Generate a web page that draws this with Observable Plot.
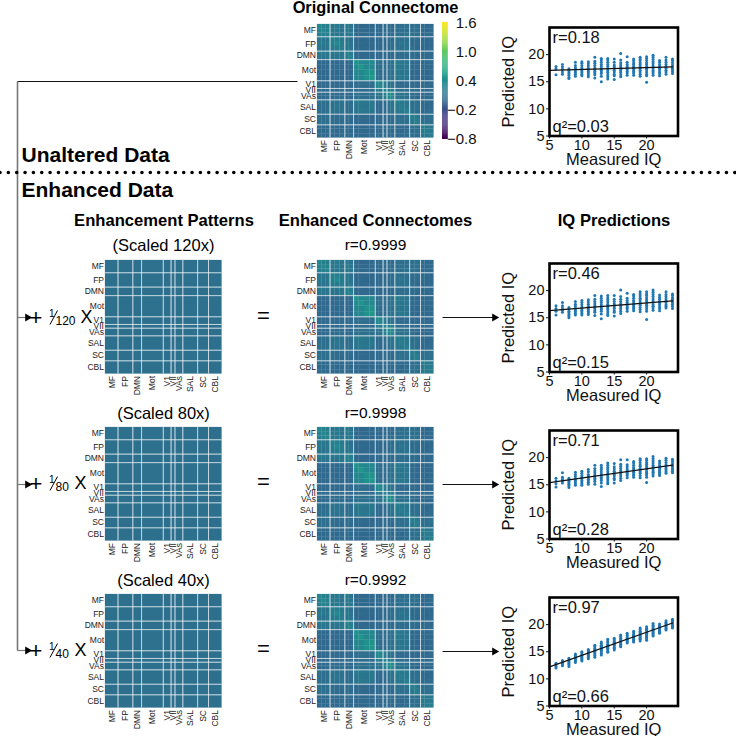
<!DOCTYPE html>
<html><head><meta charset="utf-8">
<script src="https://cdn.jsdelivr.net/npm/d3@7"></script>
<script src="https://cdn.jsdelivr.net/npm/@observablehq/plot@0.6"></script>
<style>
html,body{margin:0;padding:0;background:#fff}
#page{position:relative;width:736px;height:736px;overflow:hidden;font-family:"Liberation Sans",Arial,sans-serif}
#page svg{position:absolute;background:transparent;max-width:none}
</style></head><body><div id="page"></div>
<script>
// ---------- data ----------
const networks = ["MF","FP","DMN","Mot","V1","VII","VAs","SAL","SC","CBL"];
const networkSizes = [29,34,20,50,18,9,18,34,25,31];
// each network split in sub-blocks of nodes
const subBlocks = [[10,10,9],[11,12,11],[10,10],[12,13,13,12],[9,9],[9],[9,9],[11,12,11],[12,13],[10,11,10]];
// upper triangle of the connectome, sub-block by sub-block
const connectomeUpper = [
[.31,.25,.22,.14,.18,.12,.17,.12,.03,-.01,.01,.01,.02,.01,.02,.04,.01,.09,.06,.09,.07,.09,.04,.01,.02],
[.30,.25,.15,.17,.10,.18,.14,.01,.02,0,.02,.02,.01,.01,.04,.01,.06,.09,.06,.06,.09,.02,.01,.04],
[.26,.12,.15,.14,.14,.17,.02,.01,.02,0,.01,.02,.04,.01,.04,.07,.06,.10,.09,.06,.01,.04,.02],
[.25,.22,.17,.14,.10,.02,0,.03,.01,.01,.02,.02,.06,.02,.12,.07,.10,.04,.06,.02,.04,.01],
[.33,.2,.17,.12,.01,.03,.01,.02,.02,.02,.01,.04,.06,.09,.14,.10,.02,.04,.04,.01,.02],
[.22,.12,.15,.03,.01,.02,.01,.01,.02,.04,.02,.06,.12,.09,.12,.06,.02,.01,.02,.04],
[.26,.22,.01,.02,0,.02,.02,.01,.01,.02,.01,.06,.04,.07,.04,.06,.02,.04,.01],
[.28,.02,0,.02,.01,.02,.02,.02,.01,.02,.04,.07,.04,.06,.02,.04,.01,.02],
[.44,.33,.31,.30,.06,.07,.02,.09,.10,.2,.15,.14,.01,.02,.01,.02,.02],
[.46,.31,.30,.04,.07,.06,.07,.09,.17,.14,.15,.02,.02,.02,.02,.01],
[.41,.42,.07,.04,.04,.10,.07,.15,.12,.14,.02,.01,.02,.01,.02],
[.47,.06,.04,.02,.09,.09,.14,.17,.12,.01,.02,.01,.01,.02],
[.36,.30,.2,.12,.09,.02,.01,.04,.01,.02,.02,.01,.04],
[.33,.18,.09,.12,.04,.02,.01,.01,.02,.04,.02,.01],
[.30,.2,.22,.04,.06,.02,.02,.04,.04,.02,.06],
[.39,.33,.12,.09,.10,.02,.04,.02,.04,.01],
[.36,.09,.12,.10,.04,.01,.04,.01,.02],
[.23,.17,.15,.07,.09,.02,.04,.01],
[.2,.17,.06,.09,.04,.01,.02],
[.22,.09,.06,.01,.04,.04],
[.23,.17,.07,.06,.09],
[.22,.06,.09,.07],
[.23,.17,.15],
[.2,.18],
[.23]];
// enhancement pattern, network by network
const patternUpper = [
[.09,.08,.07,.09,.07,.08,.08,.08,.08,.07],
[.08,.08,.08,.07,.09,.08,.08,.07,.08],
[.08,.07,.08,.09,.07,.08,.08,.07],
[.09,.08,.07,.08,.08,.09,.08],
[.07,.08,.08,.08,.07,.08],
[.08,.08,.07,.08,.08],
[.08,.08,.09,.07],
[.08,.08,.08],
[.09,.08],
[.08]];
const colorTicks = [-0.8,-0.2,0.4,1.0,1.6];
const measured = [6,7,8,9,10,11,12,13,14,15,16,17,18,19,20,21,22,23,24];
const predOriginal = [
[17.8,17.4,16.3],[18.2,17.7,17.3,16.8,16.4],[17.4,17.1,16.8,16.5,16.2,15.8,15.6],
[18.6,18,17.6,17.3,17,16.7,16.4,16],[18.7,18.4,18,17.6,17.3,17,16.7,16.4,16.1],
[18.7,18.3,17.9,17.5,17.2,16.9,16.6,16.3,15.9],[19.5,18.8,18.4,18,17.6,17.2,16.9,16.6,16.3,15.7],
[19.3,19,18.6,18.2,17.8,17.4,17.1,16.8,16.5,16,15],[19.3,19,18.6,18.2,17.8,17.4,17,16.7,16.3,15.9,15.5],
[19.2,18.6,18.1,17.8,17.5,17.1,16.8,16.4,16.1,15.4],[20.2,19,18.5,18.1,17.7,17.3,17,16.7,16.3,15.9],
[19.6,18.6,18.2,17.8,17.5,17.2,16.9,16.6,16.2],[19.2,18.9,18.5,18.2,17.8,17.5,17.2,16.9,16.6,16.2],
[19.5,19.2,18.9,18.5,18.2,17.8,17.5,17.1,16.8,16.4,16],[19.6,19.3,18.9,18.5,18.2,17.8,17.5,17.2,16.8,16.4,16.1,14.9],
[19.9,19.5,19.1,18.7,18.3,17.9,17.6,17.2,16.9,16.6,16.2],[18.9,18.6,18.2,17.8,17.5,17.2,16.8,16.5,16.1],
[19.5,19,18.6,18.2,17.8,17.5,17.1,16.8,16.4],[19.2,18.9,18.5,18.1,17.8,17.5,17.2,16.9,16.5]];
const pred120 = [
[17.2,16.7,16.2,15.5],[17.8,17.2,16.8,16.4,16],[16.9,16.6,16.2,15.9,15.6,15.3,15],
[18,17.5,17.1,16.7,16.4,16.1,15.8,15.5],[18.2,17.8,17.4,17,16.7,16.4,16.1,15.8,15.5],
[18.3,17.9,17.5,17.1,16.8,16.5,16.2,15.9,15.6],[19.1,18.4,18,17.6,17.2,16.9,16.6,16.3,16,15.4],
[19,18.6,18.2,17.8,17.4,17.1,16.8,16.5,16.2,15.7,14.8],[19.1,18.7,18.3,17.9,17.5,17.1,16.8,16.5,16.1,15.7,15.4],
[19.1,18.4,18,17.6,17.3,17,16.7,16.3,16,15.3],[20.1,18.9,18.4,18,17.6,17.3,17,16.6,16.2,15.8],
[19.5,18.6,18.2,17.8,17.5,17.2,16.9,16.6,16.2],[19.3,19,18.6,18.2,17.9,17.5,17.2,16.9,16.6,16.3],
[19.8,19.4,19,18.6,18.3,17.9,17.6,17.3,16.9,16.5,16.1],[19.8,19.4,19.1,18.7,18.3,18,17.6,17.3,17,16.6,16.2,14.7],
[20.1,19.7,19.3,18.9,18.5,18.1,17.8,17.4,17.1,16.8,16.4],[19.2,18.8,18.4,18,17.7,17.4,17,16.7,16.3],
[19.8,19.3,18.9,18.5,18.1,17.8,17.4,17.1,16.8],[19.4,19.1,18.7,18.4,18.1,17.8,17.5,17.1,16.7]];
const pred80 = [
[16.2,15.7,15.2,14.6],[17.2,16.4,16,15.7,15.3],[16.2,15.9,15.6,15.3,15.1,14.8,14.5],
[17.3,16.9,16.5,16.1,15.8,15.5,15.2,14.9],[17.5,17.1,16.7,16.4,16.1,15.8,15.5,15.2,14.9],
[17.8,17.4,16.9,16.6,16.3,16,15.7,15.4,15.1],[18.6,18,17.6,17.2,16.8,16.5,16.2,15.9,15.6,15.1],
[18.6,18.2,17.8,17.4,17,16.7,16.4,16.1,15.8,15.3,14.7],[19,18.6,18.2,17.8,17.4,17,16.6,16.3,15.9,15.5,15.2],
[18.9,18.3,17.9,17.5,17.2,16.9,16.6,16.2,15.9,15.3],[19.6,18.8,18.4,18,17.6,17.3,17,16.6,16.2,15.8],
[19.6,18.7,18.3,17.9,17.6,17.3,17,16.7,16.3],[19.3,19,18.6,18.2,17.9,17.6,17.3,17,16.7,16.4],
[19.8,19.5,19.1,18.7,18.4,18,17.7,17.4,17.1,16.7,16.3],[19.8,19.5,19.1,18.8,18.4,18.1,17.8,17.4,17.1,16.8,16.4,15.4],
[20.2,19.8,19.4,19,18.6,18.3,17.9,17.6,17.3,17,16.6],[19.4,19,18.6,18.2,17.9,17.6,17.3,17,16.7],
[19.9,19.5,19.1,18.7,18.3,18,17.7,17.4,17.1],[19.7,19.4,19,18.7,18.4,18.1,17.8,17.5,17.2]];
const pred40 = [
[12.9,12.6,12.3,12],[13.4,13.1,12.9,12.6,12.4],[13.8,13.5,13.3,13,12.8,12.6,12.3],
[14.6,14.3,14.1,13.9,13.7,13.5,13.3,13],[15,14.8,14.5,14.3,14.1,13.9,13.7,13.5,13.3],
[15.4,15.2,15,14.8,14.6,14.4,14.2,14,13.7],[16.2,15.9,15.6,15.4,15.2,15,14.8,14.6,14.3,14],
[16.8,16.5,16.2,16,15.8,15.6,15.4,15.2,15,14.7,14.4],[17.3,17,16.7,16.4,16.2,16,15.8,15.6,15.4,15.1,14.9],
[17.5,17.2,16.9,16.7,16.5,16.3,16.1,15.8,15.6,15.3],[18.1,17.8,17.5,17.2,17,16.8,16.6,16.3,16.1,15.9],
[18.4,18.1,17.9,17.6,17.4,17.2,17,16.8,16.6],[18.8,18.5,18.2,18,17.8,17.6,17.4,17.2,17,16.8],
[19.4,19.1,18.8,18.6,18.3,18.1,17.9,17.7,17.5,17.3,17],[19.6,19.3,19.1,18.9,18.6,18.4,18.2,18,17.8,17.6,17.4,17.1],
[20.2,19.9,19.6,19.3,19.1,18.9,18.7,18.5,18.3,18.1,17.9],[20.1,19.8,19.6,19.4,19.2,19,18.8,18.6,18.4],
[20.7,20.4,20.2,20,19.8,19.6,19.4,19.2,19],[21,20.8,20.6,20.4,20.2,20,19.8,19.6,19.4]];
const fitX = [5,24];
const fitOriginal = [17.1,17.75];
const fit120 = [16.3,18.1];
const fit80 = [15.4,18.6];
const fit40 = [12.2,20.3];
const yTicks = [5,10,15,20];
const xTicks = [5,10,15,20];

// ---------- layout ----------
const page = document.getElementById("page");
const FONT = '"Liberation Sans",Arial,sans-serif';
function place(svg,left,top){svg.style.left=left+"px";svg.style.top=top+"px";page.appendChild(svg);}
const cum = a=>{let s=0;return a.map(v=>(s+=v));};
const edges = cum(networkSizes).slice(0,-1);
let acc=0; const mids = networkSizes.map(s=>{const m=acc+s/2;acc+=s;return m;});
const flatSub = subBlocks.flat();
const subStart = [0,...cum(flatSub)];
const netStart = [0,...cum(networkSizes)];

const connectomeCells=[];
connectomeUpper.forEach((row,i)=>row.forEach((v,k)=>{
  const j=i+k;
  connectomeCells.push({a1:subStart[j],a2:subStart[j+1],b1:subStart[i],b2:subStart[i+1],v});
  if(j!==i) connectomeCells.push({a1:subStart[i],a2:subStart[i+1],b1:subStart[j],b2:subStart[j+1],v});
}));
const patternCells=[];
patternUpper.forEach((row,i)=>row.forEach((v,k)=>{
  const j=i+k;
  patternCells.push({a1:netStart[j],a2:netStart[j+1],b1:netStart[i],b2:netStart[i+1],v});
  if(j!==i) patternCells.push({a1:netStart[i],a2:netStart[i+1],b1:netStart[j],b2:netStart[j+1],v});
}));

function heatmap(cells,left,top){
  const W=116.5,H=113.5,ml=34,mt=2,mb=30,mr=2;
  const svg=Plot.plot({
    width:W+ml+mr,height:H+mt+mb,marginLeft:ml,marginTop:mt,marginBottom:mb,marginRight:mr,
    style:{fontFamily:FONT,background:"transparent",color:"#222"},
    x:{domain:[0,268],axis:null},y:{domain:[0,268],reverse:true,axis:null},
    color:{type:"linear",scheme:"viridis",domain:[-0.8,1.6]},
    marks:[
      Plot.rect(cells,{x1:"a1",x2:"a2",y1:"b1",y2:"b2",fill:"v",inset:-0.1}),
      Plot.ruleX(edges,{stroke:"#fff",strokeOpacity:.72,strokeWidth:1}),
      Plot.ruleY(edges,{stroke:"#fff",strokeOpacity:.72,strokeWidth:1}),
      Plot.axisX(mids,{anchor:"bottom",tickSize:0,tickPadding:2,tickRotate:-90,fontSize:8.5,
        tickFormat:(d,i)=>networks[mids.indexOf(d)],label:null}),
      Plot.axisY(mids,{anchor:"left",tickSize:0,tickPadding:1.5,fontSize:8.5,
        tickFormat:(d,i)=>networks[mids.indexOf(d)],label:null})
    ]});
  place(svg,left-ml,top-mt);
}

function scatter(pred,fit,rText,qText,top){
  const ml=59,mr=6,mt=4,mb=38,W=128.5,H=108.5;
  const pts=[];
  pred.forEach((col,i)=>col.forEach(y=>pts.push({x:measured[i],y})));
  const line=fitX.map((x,i)=>({x,y:fit[i]}));
  const svg=Plot.plot({
    width:W+ml+mr,height:H+mt+mb,marginLeft:ml,marginRight:mr,marginTop:mt,marginBottom:mb,
    style:{fontFamily:FONT,background:"transparent",color:"#111",overflow:"visible"},
    x:{domain:[5,24.85]},y:{domain:[5,25]},
    marks:[
      Plot.dot(pts,{x:"x",y:"y",r:1.5,fill:"#1f77b4"}),
      Plot.line(line,{x:"x",y:"y",stroke:"#111",strokeWidth:1.3}),
      Plot.frame({stroke:"#000",strokeWidth:2.6}),
      Plot.axisX({ticks:xTicks,tickSize:3,tickPadding:1,fontSize:14.5,tickFormat:d=>d,
        label:"Measured IQ",labelAnchor:"center",labelOffset:29,labelArrow:"none"}),
      Plot.axisY({ticks:yTicks,tickSize:3,tickPadding:2,fontSize:14.5,tickFormat:d=>d,
        label:"Predicted IQ",labelAnchor:"center",labelOffset:47,labelArrow:"none"}),
      Plot.text([rText],{frameAnchor:"top-left",dx:3,dy:4,fontSize:16.5,textAnchor:"start"}),
      Plot.text([qText],{frameAnchor:"bottom-left",dx:3,dy:-4,fontSize:16.5,textAnchor:"start"})
    ]});
  svg.querySelectorAll('[aria-label="x-axis label"],[aria-label="y-axis label"]').forEach(g=>g.setAttribute("font-size","16.5"));
  place(svg,549.3-ml,top-mt);
}

function colorbar(){
  const ramp=d3.range(-0.8,1.6,0.02);
  const svg=Plot.plot({
    width:40,height:136,marginLeft:6,marginRight:0,marginTop:10,marginBottom:10,
    style:{fontFamily:FONT,background:"transparent",color:"#111",overflow:"visible"},
    x:{domain:[0,1],axis:null},y:{domain:[-0.8,1.6],axis:null},
    color:{type:"linear",scheme:"viridis",domain:[-0.8,1.6]},
    marks:[
      Plot.rect(ramp,{x1:0,x2:()=>0.17,y1:d=>d,y2:d=>d+0.022,fill:d=>d}),
      Plot.text(colorTicks,{y:d=>d,text:d=>d3.format(".1f")(d),frameAnchor:"right",textAnchor:"end",fontSize:15})
    ]});
  place(svg,435.5,13);
}

// annotations layer: page coordinates
const txt=[
 {x:375,y:7,t:"Original Connectome",s:16.4,w:"bold",a:"middle"},
 {x:21,y:155,t:"Unaltered Data",s:21,w:"bold",a:"start"},
 {x:21,y:190,t:"Enhanced Data",s:21,w:"bold",a:"start"},
 {x:163.5,y:220,t:"Enhancement Patterns",s:16.6,w:"bold",a:"middle"},
 {x:375,y:220,t:"Enhanced Connectomes",s:16.6,w:"bold",a:"middle"},
 {x:613.5,y:220,t:"IQ Predictions",s:16.6,w:"bold",a:"middle"},
 {x:163,y:245,t:"(Scaled 120x)",s:16.5,a:"middle"},{x:375,y:245,t:"r=0.9999",s:15.5,a:"middle"},
 {x:163,y:413,t:"(Scaled 80x)",s:16.5,a:"middle"},{x:375,y:413,t:"r=0.9998",s:15.5,a:"middle"},
 {x:163,y:580,t:"(Scaled 40x)",s:16.5,a:"middle"},{x:375,y:580,t:"r=0.9992",s:15.5,a:"middle"},
];
const links=[
 {x1:17,y1:81,x2:297,y2:81,c:"#111",w:1},
 {x1:17,y1:81,x2:17,y2:650,c:"#777",w:1.6},
 {x1:442,y1:317,x2:495,y2:317,c:"#111",w:1},
 {x1:442,y1:484,x2:495,y2:484,c:"#111",w:1},
 {x1:442,y1:651,x2:495,y2:651,c:"#111",w:1},
 {x1:17,y1:317,x2:26,y2:317,c:"#777",w:1.2},
 {x1:17,y1:484,x2:26,y2:484,c:"#777",w:1.2},
 {x1:17,y1:650,x2:26,y2:650,c:"#777",w:1.2},
];
[["120",317,80],["80",483,74],["40",650,74]].forEach(([n,y,xPos])=>{
  txt.push({x:35.5,y:y,t:"+",s:22,a:"middle"});
  txt.push({x:48.5,y:y-4,t:"1",s:10,a:"start"});
  links.push({x1:49.5,y1:y+7,x2:57,y2:y-7,c:"#000",w:1});
  txt.push({x:55,y:y+4,t:n,s:12,a:"start"});
  txt.push({x:xPos,y:y,t:"X",s:18,a:"start"});
  txt.push({x:263,y:y-2,t:"=",s:22,a:"middle"});
});
const heads=[{x:27,y:317},{x:27,y:484},{x:27,y:650},{x:494,y:317},{x:494,y:484},{x:494,y:651}];
const layer=Plot.plot({
  width:736,height:736,margin:0,
  style:{fontFamily:FONT,background:"transparent",color:"#000"},
  x:{type:"identity",axis:null},y:{type:"identity",axis:null},
  marks:[
    Plot.link(links,{x1:"x1",y1:"y1",x2:"x2",y2:"y2",stroke:"c",strokeWidth:"w"}),
    Plot.dot(heads,{x:"x",y:"y",symbol:"triangle",rotate:90,r:3,fill:"#000"}),
    Plot.ruleY([172],{x1:0,x2:736,stroke:"#000",strokeWidth:3.6,strokeDasharray:"0,8.35",strokeLinecap:"round"}),
    ...txt.map(d=>Plot.text([d],{x:"x",y:"y",text:"t",fontSize:d.s,fontWeight:d.w||"normal",textAnchor:d.a,fill:"#000"}))
  ]});
place(layer,0,0);

heatmap(connectomeCells,316.5,24);
colorbar();
scatter(predOriginal,fitOriginal,"r=0.18","q²=0.03",27);

heatmap(patternCells,105,260);  heatmap(connectomeCells,316.5,260); scatter(pred120,fit120,"r=0.46","q²=0.15",263);
heatmap(patternCells,105,427);  heatmap(connectomeCells,316.5,427); scatter(pred80,fit80,"r=0.71","q²=0.28",430);
heatmap(patternCells,105,594);  heatmap(connectomeCells,316.5,594); scatter(pred40,fit40,"r=0.97","q²=0.66",597);
</script></body></html>
